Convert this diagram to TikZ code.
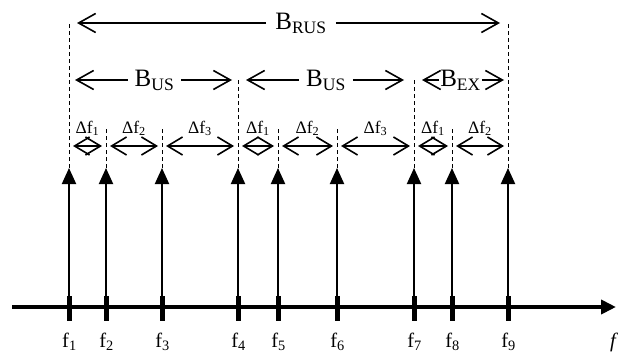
\documentclass[tikz,border=0pt]{standalone}
\usepackage{fontspec}
\setmainfont{Liberation Serif}
\usetikzlibrary{arrows.meta,calc}
\begin{document}
\begin{tikzpicture}[x=1pt,y=-1pt,
  bigfont/.style={font=\fontsize{25}{28}\selectfont},
  midfont/.style={font=\fontsize{17.5}{20}\selectfont},
  axfont/.style={font=\fontsize{20.5}{24}\selectfont},
  halfbarb/.style={line width=1.6pt,-{Straight Barb[length=17pt,width=19pt]}},
  dblbarb/.style={line width=1.6pt,{Straight Barb[length=15pt,width=18pt]}-{Straight Barb[length=15pt,width=18pt]},shorten <=4pt,shorten >=4pt},
  dashline/.style={line width=0.9pt,dash pattern=on 4pt off 3pt},
  spike/.style={line width=2pt,-{Triangle[length=16pt,width=14pt]}},
  tickmark/.style={line width=5pt},
  lbl/.style={inner sep=0pt,anchor=base}
]
\useasboundingbox (0,0) rectangle (619,353);
% coordinates
\foreach \i/\x/\t in {1/69/23,2/106/127,3/162/127,4/238/80,5/278/127,6/337/127,7/414/80,8/452/127,9/508/23}{
  \coordinate (a\i) at (\x,307);
  \coordinate (p\i) at (\x,168);
  \coordinate (d\i) at (\x,\t);
  \coordinate (m\i) at (\x,146);
  \coordinate (r\i) at (\x,80);
  \coordinate (s\i) at (\x,23);
}
\coordinate (axs) at (12,307);
\coordinate (axe) at (616,307);
% axis
\draw[line width=4pt,-{Triangle[length=15pt,width=14pt]}] (axs) -- (axe);
\foreach \i in {1,...,9}{
  \draw[tickmark] ([yshift=11pt]a\i) -- ([yshift=-14pt]a\i);
  \draw[spike] (a\i) -- (p\i);
  \draw[dashline] (p\i) -- (d\i);
  \node[lbl,axfont] (f\i) at ([xshift=0.5pt,yshift=-40pt]a\i) {f\textsubscript{\i}};
}
\node[inner sep=0pt,anchor=base west,axfont] (fax) at (610,347) {\textit{f}};
% B_RUS
\node[lbl,bigfont,inner xsep=9pt] (brus) at (301,30) {B\textsubscript{RUS}};
\draw[halfbarb,shorten >=8pt] (brus.west |- s1) -- (s1);
\draw[halfbarb,shorten >=8pt] (brus.east |- s9) -- (s9);
% B_US 1
\node[lbl,bigfont,inner xsep=7pt] (bus1) at (154.5,87) {B\textsubscript{US}};
\draw[halfbarb,shorten >=6pt] (bus1.west |- r1) -- (r1);
\draw[halfbarb,shorten >=6pt] (bus1.east |- r4) -- (r4);
% B_US 2
\node[lbl,bigfont,inner xsep=7pt] (bus2) at (326,87) {B\textsubscript{US}};
\draw[halfbarb,shorten >=8pt] (bus2.west |- r4) -- (r4);
\draw[halfbarb,shorten >=10pt] (bus2.east |- r7) -- (r7);
% B_EX
\node[lbl,bigfont,inner xsep=1pt] (bex) at (460.5,87) {B\textsubscript{EX}};
\draw[halfbarb,shorten >=8pt] (bex.west |- r7) -- (r7);
\draw[halfbarb,shorten >=4pt] (bex.east |- r9) -- (r9);
% Delta f
\foreach \a/\b/\k in {1/2/1,2/3/2,3/4/3,4/5/1,5/6/2,6/7/3,7/8/1,8/9/2}{
  \draw[dblbarb] (m\a) -- (m\b);
  \node[lbl,midfont] (df\a) at ($(m\a)!0.5!(m\b)+(0,-13)$) {Δf\textsubscript{\k}};
}
\end{tikzpicture}
\end{document}
